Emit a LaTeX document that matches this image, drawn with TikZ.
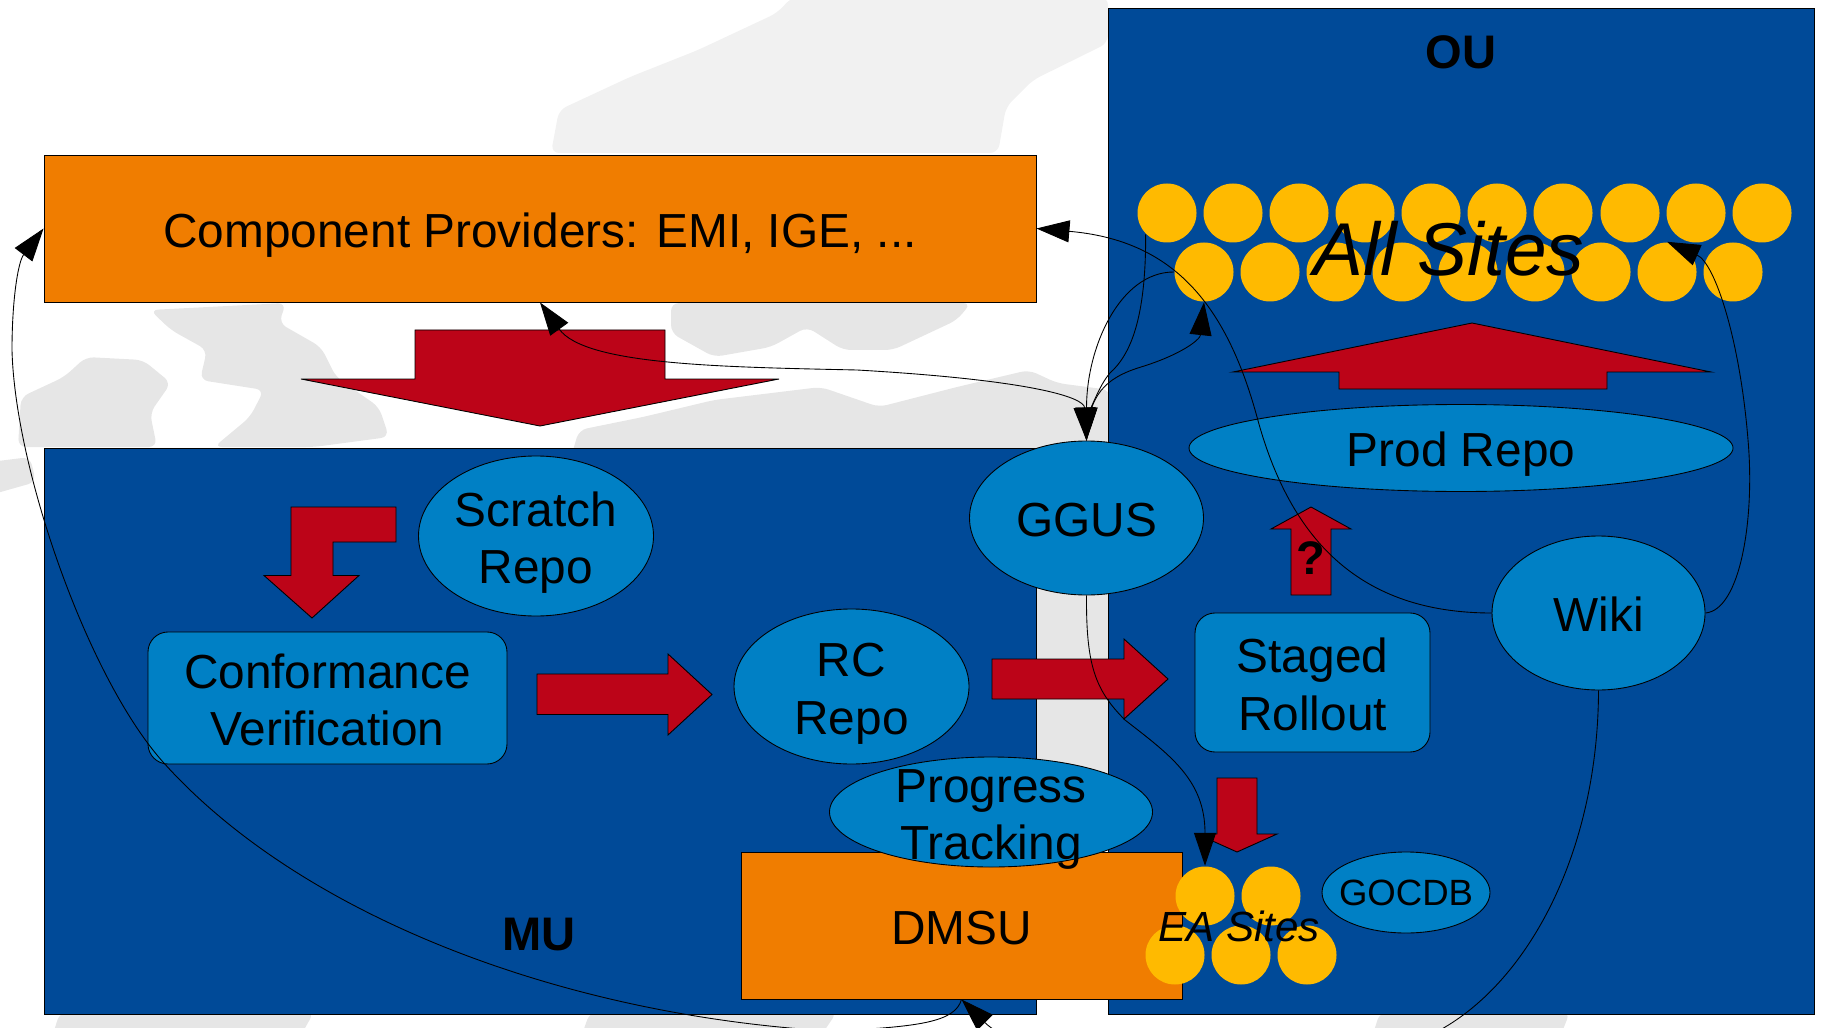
\documentclass[tikz,border=0pt]{standalone}
\usepackage{fontspec}
\setmainfont{Liberation Sans}
\usetikzlibrary{shapes.geometric,arrows.meta}
\definecolor{unitblue}{RGB}{0,74,152}
\definecolor{repoblue}{RGB}{0,128,197}
\definecolor{boxorange}{RGB}{240,125,0}
\definecolor{siteyellow}{RGB}{255,186,0}
\definecolor{arrowred}{RGB}{188,4,24}
\definecolor{mapgrey}{RGB}{230,230,230}
\definecolor{mapnorth}{RGB}{241,241,241}
% zero-size label, so that it never changes the size of its shape
\newcommand{\lbl}[1]{\raisebox{-0.2cm}[0pt][0pt]{\makebox[0pt]{\begin{tabular}{@{}c@{}}#1\end{tabular}}}}
\tikzset{
  labeltext/.style={font=\fontsize{13.6}{16.4}\selectfont, inner sep=0pt},
  orangebox/.style={labeltext, draw=black, line width=0.25pt, fill=boxorange, rectangle},
  bluebox/.style={labeltext, draw=black, line width=0.25pt, fill=repoblue, rectangle, rounded corners=0.2cm},
  repo/.style={labeltext, draw=black, line width=0.25pt, fill=repoblue, ellipse},
  site/.style={circle, fill=siteyellow, inner sep=0pt, minimum size=0.59cm},
  unitarea/.style={draw=black, line width=0.2pt, fill=unitblue},
  redarrow/.style={draw=black, line width=0.25pt, fill=arrowred},
  unitname/.style={font=\fontsize{13.4}{16.4}\selectfont\bfseries, inner sep=0pt},
  mapland/.style={rounded corners=0.08cm},
  flow/.style={line width=0.25pt, >={Triangle[length=3.3mm,width=2.2mm]}}
}
\begin{document}
\begin{tikzpicture}
\useasboundingbox (0, 0) rectangle (18.22, 10.27);
\clip (0, 0) rectangle (18.22, 10.27);

% Map in the background
\fill[mapnorth, mapland] (5.51, 8.74) -- (5.59, 9.17) -- (6.30, 9.50) -- (6.98, 9.77) -- (7.77, 10.14) -- (7.92, 10.30) -- (11.08, 10.30) -- (11.08, 9.84) -- (10.33, 9.47) -- (10.06, 9.20) -- (9.98, 8.74) -- cycle;
\fill[mapgrey, mapland] (0.18, 5.80) -- (0.21, 6.30) -- (0.64, 6.50) -- (0.86, 6.70) -- (1.43, 6.67) -- (1.71, 6.44) -- (1.50, 6.14) -- (1.57, 5.80) -- cycle;
\fill[mapgrey, mapland] (1.50, 7.17) -- (2.86, 7.24) -- (2.79, 7.04) -- (3.21, 6.80) -- (3.36, 6.50) -- (3.79, 6.20) -- (3.89, 5.90) -- (3.14, 5.80) -- (2.14, 5.80) -- (2.50, 6.10) -- (2.64, 6.37) -- (2.00, 6.47) -- (2.07, 6.77) -- (1.71, 6.97) -- cycle;
\fill[mapgrey, mapland] (6.71, 7.24) -- (9.71, 7.24) -- (9.57, 7.07) -- (8.93, 6.77) -- (8.43, 6.77) -- (8.07, 7.00) -- (7.71, 6.80) -- (7.14, 6.70) -- (6.71, 6.94) -- cycle;
\fill[mapgrey, mapland] (5.71, 5.70) -- (5.79, 5.97) -- (6.43, 6.10) -- (7.14, 6.27) -- (8.21, 6.40) -- (8.79, 6.20) -- (9.57, 6.40) -- (10.29, 6.57) -- (10.57, 6.44) -- (11.10, 6.37) -- (11.10, 5.70) -- cycle;
\fill[mapgrey] (10.30, 2.54) rectangle (11.10, 6.00);
\fill[mapgrey, mapland] (-0.10, 5.32) -- (0.36, 5.45) -- (0.30, 5.70) -- (-0.10, 5.65) -- cycle;
\fill[mapgrey, mapland] (0.52, -0.10) -- (0.60, 0.15) -- (3.14, 0.15) -- (3.00, -0.10) -- cycle;
\fill[mapgrey, mapland] (5.81, -0.10) -- (5.90, 0.15) -- (8.37, 0.15) -- (8.20, -0.10) -- cycle;
\fill[mapgrey, mapland] (13.72, -0.10) -- (13.80, 0.15) -- (15.70, 0.15) -- (15.60, -0.10) -- cycle;

% Draw the two units
\draw[unitarea] (0.44, 0.13) rectangle +(9.92, 5.66);
\draw[unitarea] (11.08, 0.13) rectangle +(7.06, 10.06);
\node[unitname] (mulabel) at (5.39, 0.92) {MU};
\node[unitname] (oulabel) at (14.61, 9.75) {OU};

% Component providers
\node[orangebox, minimum width=9.92cm, minimum height=1.47cm] (provider) at (5.40, 7.985) {\lbl{Component Providers: EMI, IGE, ...}};

% Big red arrows
\draw[redarrow] (4.15, 6.97) -- (6.65, 6.97) -- (6.65, 6.48) -- (7.79, 6.48) -- (5.40, 6.01) -- (3.01, 6.48) -- (4.15, 6.48) -- cycle;
\draw[redarrow] (14.72, 7.04) -- (17.11, 6.55) -- (16.07, 6.55) -- (16.07, 6.38) -- (13.39, 6.38) -- (13.39, 6.55) -- (12.33, 6.55) -- cycle;
\draw[redarrow] (13.11, 5.20) -- (13.51, 4.98) -- (13.31, 4.98) -- (13.31, 4.32) -- (12.91, 4.32) -- (12.91, 4.98) -- (12.71, 4.98) -- cycle;
\draw[redarrow] (2.91, 5.20) -- (3.96, 5.20) -- (3.96, 4.85) -- (3.33, 4.85) -- (3.33, 4.515) -- (3.59, 4.515) -- (3.12, 4.09) -- (2.64, 4.515) -- (2.91, 4.515) -- cycle;
\draw[redarrow] (5.37, 3.53) -- (6.68, 3.53) -- (6.68, 3.73) -- (7.12, 3.325) -- (6.68, 2.92) -- (6.68, 3.125) -- (5.37, 3.125) -- cycle;
\draw[redarrow] (9.92, 3.68) -- (11.24, 3.68) -- (11.24, 3.88) -- (11.68, 3.48) -- (11.24, 3.08) -- (11.24, 3.28) -- (9.92, 3.28) -- cycle;
\draw[redarrow] (12.17, 2.49) -- (12.57, 2.49) -- (12.57, 1.93) -- (12.77, 1.93) -- (12.37, 1.75) -- (11.97, 1.93) -- (12.17, 1.93) -- cycle;

% Repositories and services
\node[repo, minimum width=2.35cm, minimum height=1.60cm] (scratch) at (5.36, 4.91) {\lbl{Scratch\\Repo}};
\node[bluebox, minimum width=3.59cm, minimum height=1.32cm] (conformance) at (3.275, 3.29) {\lbl{Conformance\\Verification}};
\node[repo, minimum width=2.35cm, minimum height=1.55cm] (rc) at (8.515, 3.405) {\lbl{RC\\Repo}};
\node[bluebox, minimum width=2.35cm, minimum height=1.39cm] (staged) at (13.125, 3.445) {\lbl{Staged\\Rollout}};
\node[repo, minimum width=2.34cm, minimum height=1.54cm] (ggus) at (10.865, 5.09) {\lbl{GGUS}};
\node[repo, minimum width=2.13cm, minimum height=1.54cm] (wiki) at (15.985, 4.14) {\lbl{Wiki}};
\node[repo, minimum width=5.44cm, minimum height=0.87cm] (prod) at (14.61, 5.79) {\lbl{Prod Repo}};
\node[orangebox, minimum width=4.41cm, minimum height=1.47cm] (dmsu) at (9.615, 1.015) {\lbl{DMSU}};
\node[repo, minimum width=3.23cm, minimum height=1.10cm] (progress) at (9.91, 2.15) {\lbl{Progress\\Tracking}};
\node[repo, minimum width=1.68cm, minimum height=0.81cm, font=\fontsize{10.4}{13}\selectfont] (gocdb) at (14.06, 1.345) {\raisebox{-0.13cm}[0pt][0pt]{\makebox[0pt]{GOCDB}}};

% All sites
\node[site] (topsite1) at (11.67, 8.14) {};
\node[site] (topsite2) at (12.33, 8.14) {};
\node[site] (topsite3) at (12.99, 8.14) {};
\node[site] (topsite4) at (13.65, 8.14) {};
\node[site] (topsite5) at (14.31, 8.14) {};
\node[site] (topsite6) at (14.97, 8.14) {};
\node[site] (topsite7) at (15.63, 8.14) {};
\node[site] (topsite8) at (16.30, 8.14) {};
\node[site] (topsite9) at (16.96, 8.14) {};
\node[site] (topsite10) at (17.62, 8.14) {};
\node[site] (lowsite1) at (12.04, 7.55) {};
\node[site] (lowsite2) at (12.70, 7.55) {};
\node[site] (lowsite3) at (13.36, 7.55) {};
\node[site] (lowsite4) at (14.02, 7.55) {};
\node[site] (lowsite5) at (14.68, 7.55) {};
\node[site] (lowsite6) at (15.35, 7.55) {};
\node[site] (lowsite7) at (16.01, 7.55) {};
\node[site] (lowsite8) at (16.67, 7.55) {};
\node[site] (lowsite9) at (17.33, 7.55) {};
\node[font=\fontsize{21.3}{25}\selectfont\itshape, inner sep=0pt] (allsites) at (14.49, 7.78) {All Sites};

% Early adopter sites
\node[site] (easite1) at (12.05, 1.31) {};
\node[site] (easite2) at (12.71, 1.31) {};
\node[site] (easite3) at (11.75, 0.72) {};
\node[site] (easite4) at (12.41, 0.72) {};
\node[site] (easite5) at (13.07, 0.72) {};
\node[font=\fontsize{12}{14}\selectfont\itshape, inner sep=0pt] (easites) at (12.39, 1.01) {EA Sites};

\node[unitname] (question) at (13.11, 4.69) {?};

% Connectors
\draw[flow, ->] (wiki.west) .. controls (13.60, 4.14) and (12.90, 4.87) .. (12.57, 6.10) .. controls (12.25, 7.27) and (11.70, 7.87) .. (provider.east);
\draw[flow, ->] (wiki.east) .. controls (17.40, 4.17) and (17.55, 5.07) .. (17.48, 5.87) .. controls (17.40, 6.87) and (17.15, 7.64) .. (lowsite8.north);
\draw[flow, ->] (topsite1.south west) .. controls (11.46, 7.07) and (11.30, 6.72) .. (11.10, 6.54) .. controls (10.95, 6.37) and (10.865, 6.00) .. (ggus.north);
\draw[flow, ->] (lowsite1.west) .. controls (11.20, 7.55) and (10.865, 6.80) .. (ggus.north);
\draw[flow, ->] (ggus.north) .. controls (10.88, 6.32) and (11.05, 6.49) .. (11.41, 6.60) .. controls (11.80, 6.72) and (12.00, 6.87) .. (lowsite1.south);
\draw[flow, <->] (ggus.north) .. controls (10.84, 6.30) and (10.30, 6.47) .. (8.57, 6.57) .. controls (7.20, 6.60) and (5.85, 6.62) .. (provider.south);
\draw[flow, ->] (ggus.south) .. controls (10.86, 3.62) and (10.95, 3.37) .. (11.25, 3.07) .. controls (11.70, 2.72) and (12.05, 2.47) .. (easite1.north);
\draw[flow, ->] (wiki.south) .. controls (15.98, 1.77) and (15.30, 0.47) .. (14.40, -0.03) .. controls (13.50, -0.53) and (10.40, -0.50) .. (dmsu.south);
\draw[flow, ->] (dmsu.south) .. controls (9.55, 0.05) and (9.20, 0.00) .. (8.30, -0.04) .. controls (5.60, 0.12) and (3.00, 1.12) .. (1.63, 2.65) .. controls (0.88, 3.49) and (0.15, 5.57) .. (0.12, 6.77) .. controls (0.12, 7.27) and (0.18, 7.65) .. (provider.west);
\end{tikzpicture}
\end{document}
